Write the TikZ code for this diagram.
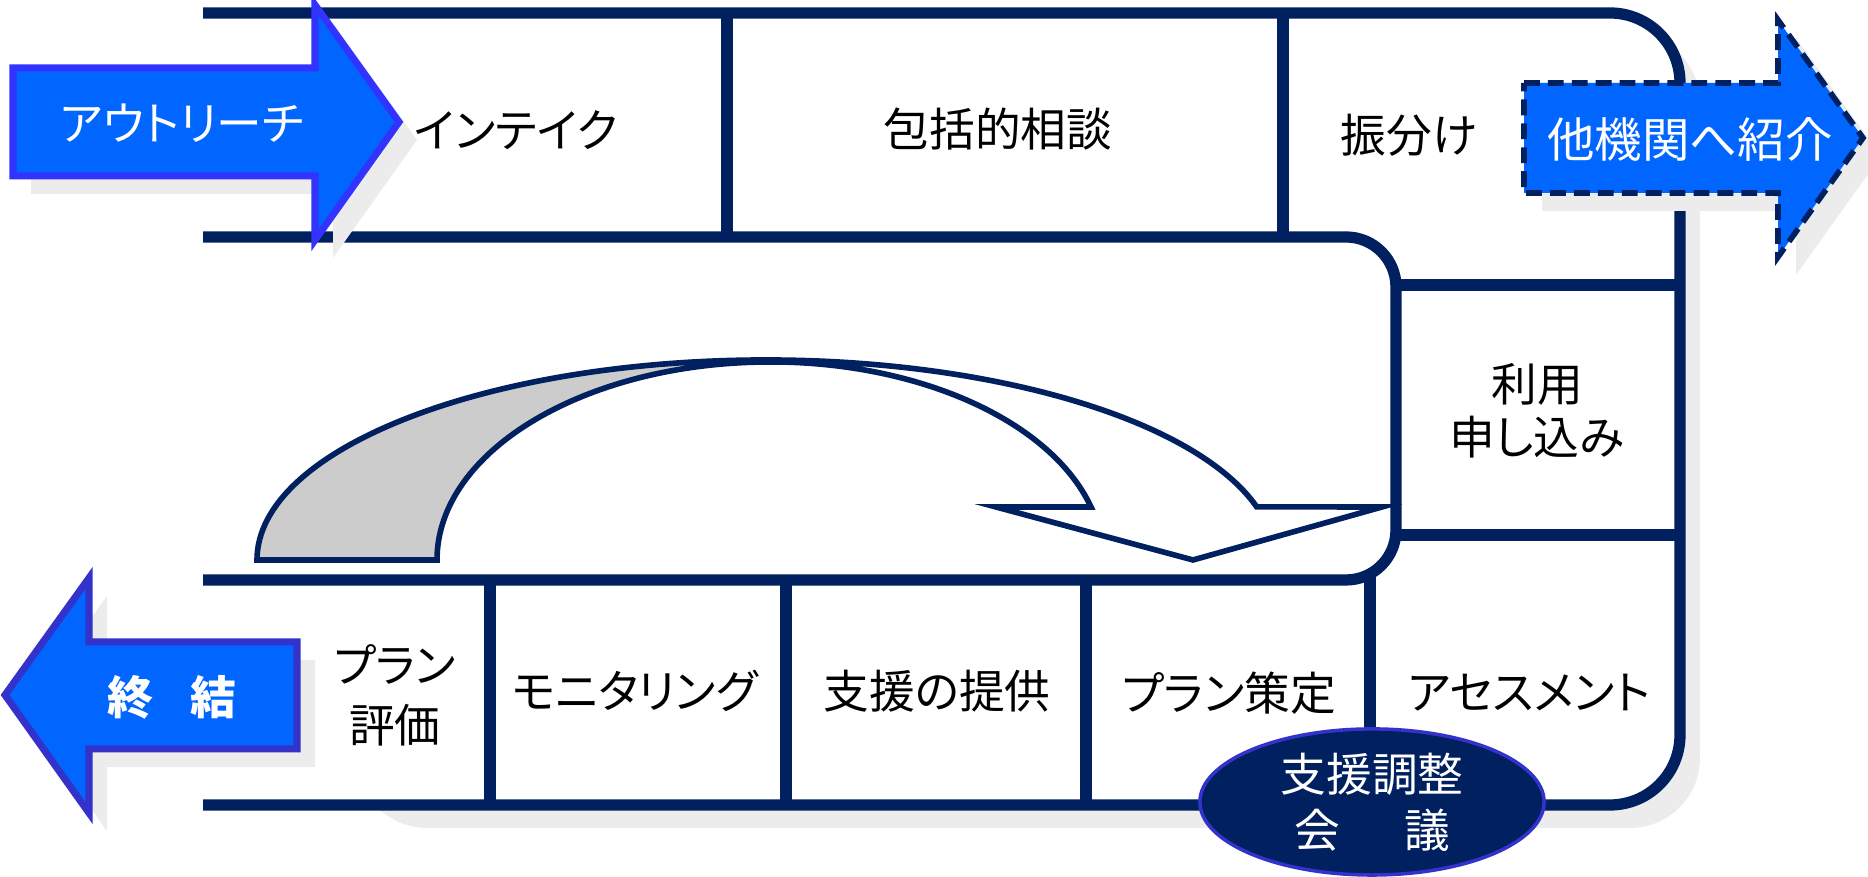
\documentclass[tikz,border=0pt]{standalone}
\usepackage{fontspec}
\setmainfont{Noto Sans CJK JP}[RawFeature={+palt}]
\usetikzlibrary{shapes.geometric}
\definecolor{navy}{RGB}{0,32,96}
\definecolor{arrowblue}{RGB}{0,102,255}
\definecolor{arrowedge}{RGB}{51,51,255}
\definecolor{endedge}{RGB}{51,51,204}
\definecolor{backgray}{RGB}{204,204,204}
\definecolor{shadowgray}{RGB}{236,236,236}
\tikzset{
  frame/.style={draw=navy,line width=3.2pt},
  curve/.style={draw=navy,line width=1.6pt},
  cell/.style={inner sep=0pt,align=center,font=\fontsize{13}{15}\selectfont},
  blocktext/.style={inner sep=0pt,text=white,font=\fontsize{13}{16}\selectfont},
  flowarrow/.style={fill=arrowblue,draw=arrowedge,line width=2pt},
  dropshadow/.style={fill=shadowgray},
}

\begin{document}
\begin{tikzpicture}[x=0.01cm,y=0.01cm]
            \useasboundingbox (0,0) rectangle (1868,877);
            \fill[dropshadow,rounded corners=0.7cm] (357,49) rectangle (1700,844);
            \fill[white] (203,864) -- (1610,864) arc[start angle=90,end angle=0,radius=70] -- (1680,142) arc[start angle=0,end angle=-90,radius=70] -- (203,72) -- cycle;
            \filldraw[curve,fill=backgray] (257,317) arc[start angle=180,end angle=90,x radius=509,y radius=200] -- (770,515) arc[start angle=90,end angle=180,x radius=333,y radius=198] -- cycle;
            \filldraw[curve,fill=white] (766,517) arc[start angle=90,end angle=15.4,x radius=509,y radius=200] -- (1382,370) -- (1193,317) -- (996,370) -- (1091,370) arc[start angle=15.5,end angle=90,x radius=333,y radius=198] -- cycle;
            \draw[frame] (203,864) -- (1610,864) arc[start angle=90,end angle=0,radius=70] -- (1680,142) arc[start angle=0,end angle=-90,radius=70] -- (203,72);
            \draw[frame] (203,640) -- (1346,640) arc[start angle=90,end angle=0,radius=50] -- (1396,347) arc[start angle=0,end angle=-90,radius=50] -- (203,297);
            \draw[frame] (1396,592) -- (1680,592) (1396,342) -- (1680,342);
            \foreach \x in {727,1283} \draw[frame] (\x,864) -- (\x,640);
            \foreach \x in {490,786,1086} \draw[frame] (\x,297) -- (\x,72);
            \draw[frame] (1370,303) -- (1370,72);
            \node[cell] (intake) at (516,747) {インテイク};
            \node[cell] (consult) at (998,748) {包括的相談};
            \node[cell] (sorting) at (1409,742) {振分け};
            \node[cell] (apply) at (1537,466) {利用\\申し込み};
            \node[cell,font=\fontsize{13}{17}\selectfont] (review) at (395,182) {プラン\\評価};
            \node[cell] (monitor) at (635,186) {モニタリング};
            \node[cell] (support) at (937,186) {支援の提供};
            \node[cell] (planning) at (1229,184) {プラン策定};
            \node[cell] (assess) at (1529,184) {アセスメント};
            % arrows in and out
            \fill[dropshadow] (31,791) -- (333,791) -- (333,854) -- (417,737) -- (333,619) -- (333,683) -- (31,683) -- cycle;
            \filldraw[flowarrow] (13,809) -- (315,809) -- (315,872) -- (399,755) -- (315,637) -- (315,701) -- (13,701) -- cycle;
            \node[blocktext,font=\fontsize{13}{15}\selectfont] (outreach) at (182,754) {アウトリーチ};
            \fill[dropshadow] (23,164) -- (107,281) -- (107,217) -- (315,217) -- (315,110) -- (107,110) -- (107,46) -- cycle;
            \filldraw[flowarrow,draw=endedge] (5,182) -- (89,299) -- (89,235) -- (297,235) -- (297,128) -- (89,128) -- (89,64) -- cycle;
            \node[blocktext,font=\bfseries\fontsize{13}{16}\selectfont] (closure) at (172,180) {終\hspace{0.8em}結};
            \fill[dropshadow] (1542,776) -- (1796,776) -- (1796,839) -- (1881,721) -- (1796,602) -- (1796,666) -- (1542,666) -- cycle;
            \filldraw[flowarrow,draw=navy,line width=1.6pt,dash pattern=on 4.5pt off 2.3pt] (1524,794) -- (1778,794) -- (1778,857) -- (1863,739) -- (1778,620) -- (1778,684) -- (1524,684) -- cycle;
            \node[blocktext,font=\fontsize{13.5}{16}\selectfont] (referral) at (1690,737) {他機関へ紹介};
            \node[ellipse,draw=endedge,fill=navy,line width=1pt,minimum width=3.44cm,minimum height=1.46cm,inner sep=0pt,text=white,align=center,font=\fontsize{13}{16}\selectfont] (meeting) at (1372,75) {支援調整\\会\hspace{1.4em}議};
         \end{tikzpicture}
\end{document}
